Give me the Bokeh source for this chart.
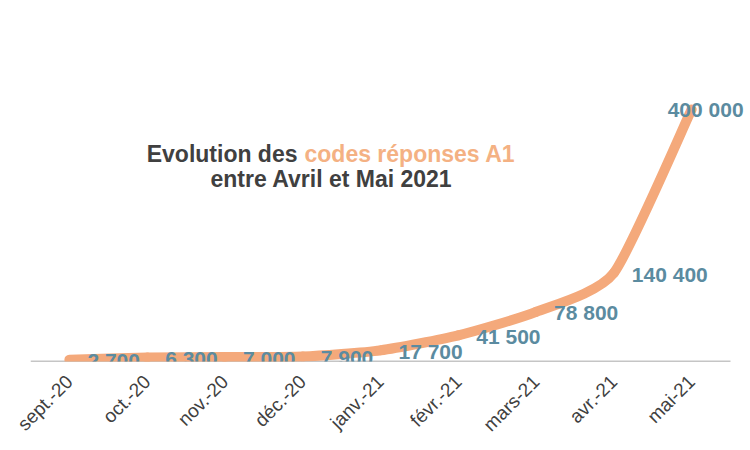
import numpy as np
from bokeh.plotting import figure
from bokeh.models import Range1d, ColumnDataSource, FixedTicker
from bokeh.core.properties import value
from bokeh.embed import file_html
from bokeh.resources import INLINE

categories = ["sept.-20", "oct.-20", "nov.-20", "déc.-20", "janv.-21",
              "févr.-21", "mars-21", "avr.-21", "mai-21"]
values = [2700, 6300, 7000, 7900, 17700, 41500, 78800, 140400, 400000]
labels = ["2 700", "6 300", "7 000", "7 900", "17 700", "41 500",
          "78 800", "140 400", "400 000"]

FONT = "Liberation Sans"
LINE_COLOR = "#F4A97B"
LABEL_COLOR = "#5B8BA0"
TITLE_DARK = "#404040"
TITLE_ORANGE = "#F4B183"

n = len(categories)
xs = np.arange(n) + 0.5          # category centres
# frame: 720 px wide, the categories occupy the first 700 px
x_end = n * 720 / 700

p = figure(width=750, height=450, output_backend="svg", toolbar_location=None,
           x_range=Range1d(0, x_end), y_range=Range1d(0, 557000),
           min_border_left=30, min_border_right=0, min_border_top=10,
           min_border_bottom=89)
p.outline_line_color = None
p.xgrid.visible = False
p.ygrid.visible = False
p.yaxis.visible = False
p.background_fill_color = "white"
p.border_fill_color = "white"

# category axis baseline (spans the category band only)
p.line(x=[0, n], y=[0, 0], line_color="#8C8C8C", line_width=1.5)

# gently smoothed line (cardinal spline -> cubic bezier)
TENSION = 1 / 10
ys = np.array(values, dtype=float)
x0, y0, x1, y1, cx0, cy0, cx1, cy1 = [], [], [], [], [], [], [], []
for i in range(n - 1):
    pm = i - 1 if i > 0 else i
    pp = i + 2 if i + 2 < n else i + 1
    x0.append(xs[i]); y0.append(ys[i])
    x1.append(xs[i + 1]); y1.append(ys[i + 1])
    cx0.append(xs[i] + (xs[i + 1] - xs[pm]) * TENSION)
    cy0.append(ys[i] + (ys[i + 1] - ys[pm]) * TENSION)
    cx1.append(xs[i + 1] - (xs[pp] - xs[i]) * TENSION)
    cy1.append(ys[i + 1] - (ys[pp] - ys[i]) * TENSION)
p.bezier(x0=x0, y0=y0, x1=x1, y1=y1, cx0=cx0, cy0=cy0, cx1=cx1, cy1=cy1,
         line_color=LINE_COLOR, line_width=10, line_cap="round")

# data labels
src = ColumnDataSource(dict(x=xs[:-1], y=values[:-1], t=labels[:-1]))
p.text(x="x", y="y", text="t", source=src, x_offset=18, y_offset=1,
       text_align="left", text_baseline="middle", text_color=LABEL_COLOR,
       text_font=value(FONT), text_font_style="bold", text_font_size="21px")
src2 = ColumnDataSource(dict(x=xs[-1:], y=values[-1:], t=labels[-1:]))
p.text(x="x", y="y", text="t", source=src2, x_offset=14, y_offset=0,
       text_align="center", text_baseline="middle", text_color=LABEL_COLOR,
       text_font=value(FONT), text_font_style="bold", text_font_size="21px")

# x axis styling
ax = p.xaxis[0]
ax.ticker = FixedTicker(ticks=list(xs))
ax.major_label_overrides = {float(x): c for x, c in zip(xs, categories)}
ax.axis_line_color = None
ax.major_tick_line_color = None
ax.minor_tick_line_color = None
ax.major_label_orientation = np.pi / 4
ax.major_label_text_font = FONT
ax.major_label_text_font_size = "19px"
ax.major_label_text_color = "#404040"
ax.major_label_standoff = 11

# title (screen units relative to the plot frame)
from bokeh.models import Label
common = dict(x_units="screen", y_units="screen", text_font=FONT,
              text_font_style="bold", text_font_size="23px",
              text_baseline="alphabetic")
p.add_layout(Label(x=267, y=208, text="Evolution des", text_align="right",
                   text_color=TITLE_DARK, **common))
p.add_layout(Label(x=274, y=208, text="codes réponses A1", text_align="left",
                   text_color=TITLE_ORANGE, **common))
p.add_layout(Label(x=301, y=183, text="entre Avril et Mai 2021", text_align="center",
                   text_color=TITLE_DARK, **common))

open("out.html", "w").write(file_html(p, INLINE))
